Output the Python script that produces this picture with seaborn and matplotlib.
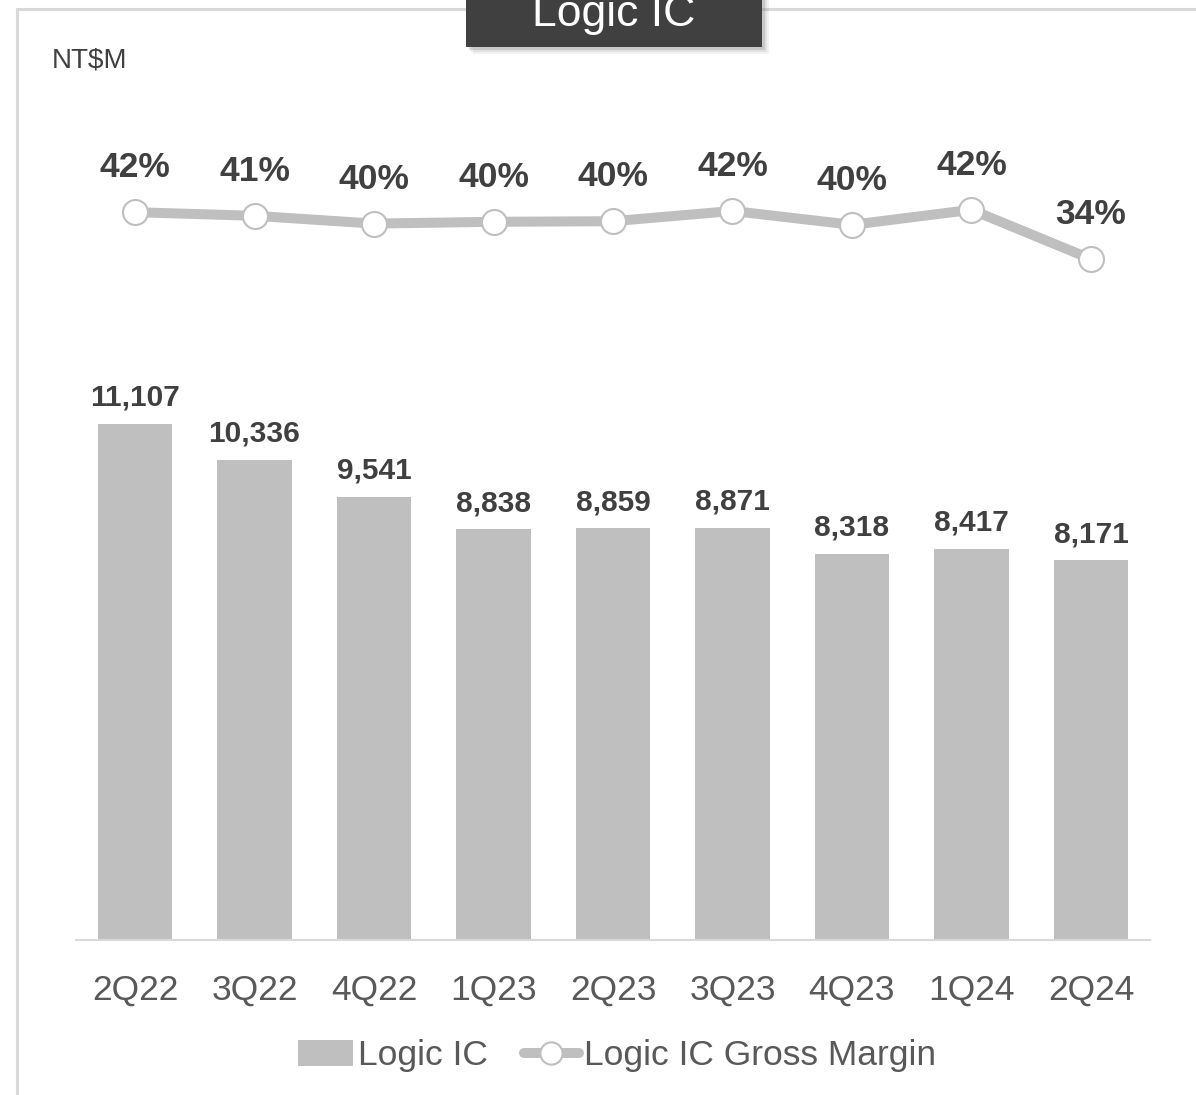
import numpy as np
import pandas as pd
import matplotlib
matplotlib.use("Agg")
import matplotlib.pyplot as plt
from matplotlib.patches import Rectangle, Patch
from matplotlib.lines import Line2D
import seaborn as sns

quarters = ["2Q22", "3Q22", "4Q22", "1Q23", "2Q23", "3Q23", "4Q23", "1Q24", "2Q24"]
revenue = [11107, 10336, 9541, 8838, 8859, 8871, 8318, 8417, 8171]
gross_margin = [41.8, 41.2, 39.9, 40.2, 40.3, 42.0, 39.7, 42.2, 34.0]

title = "Logic IC"
unit_label = "NT$M"
bar_label = "Logic IC"
line_label = "Logic IC Gross Margin"

sns.set_theme(style="white")
plt.rcParams["font.family"] = ["Liberation Sans", "DejaVu Sans"]

W, H = 1196, 1095
fig = plt.figure(figsize=(W / 100, H / 100), dpi=100)
fig.patch.set_facecolor("white")

BAR_C = "#BFBFBF"
TXT_DARK = "#404040"
TXT_MID = "#595959"

ax = fig.add_axes([76 / W, 155 / H, 1074 / W, 840 / H])
df = pd.DataFrame({"quarter": quarters, "revenue": revenue, "gm": gross_margin})
sns.barplot(data=df, x="quarter", y="revenue", ax=ax, color=BAR_C,
            saturation=1, width=0.62, edgecolor="none")
ax.set_ylim(0, 18080)
ax.set_xlim(-0.494, 8.494)
for s in ["top", "right", "left"]:
    ax.spines[s].set_visible(False)
ax.spines["bottom"].set_color("#D9D9D9")
ax.spines["bottom"].set_linewidth(1.5)
ax.set_yticks([])
ax.set_xlabel("")
ax.set_ylabel("")
ax.tick_params(axis="x", length=0, pad=24, labelsize=25.5, labelcolor=TXT_MID)
ax.patch.set_alpha(0)

for i, v in enumerate(revenue):
    ax.annotate(f"{v:,}", (i, v), xytext=(0, 13), textcoords="offset points",
                ha="center", va="baseline", fontsize=21.5, fontweight="bold",
                color=TXT_DARK)

ax2 = ax.twinx()
sns.lineplot(x=np.arange(len(quarters)), y=df["gm"], ax=ax2, color=BAR_C,
             linewidth=7.2, marker="o", markersize=18, markerfacecolor="white",
             markeredgecolor=BAR_C, markeredgewidth=1.5, zorder=3)
ax2.set_ylim(-79.5, 60.5)
ax2.set_xlim(-0.494, 8.494)
ax2.axis("off")
for i, v in enumerate(gross_margin):
    ax2.annotate(f"{v:.0f}%", (i, v), xytext=(0, 25), textcoords="offset points",
                 ha="center", va="baseline", fontsize=25.5, fontweight="bold",
                 color=TXT_DARK)

# frame lines
fig.add_artist(Line2D([17 / W, 1], [1 - 9 / H, 1 - 9 / H], transform=fig.transFigure,
                      color="#D9D9D9", linewidth=2.2, zorder=1))
fig.add_artist(Line2D([17 / W, 17 / W], [0, 1 - 9 / H], transform=fig.transFigure,
                      color="#D9D9D9", linewidth=2.2, zorder=1))

# title box with shadow
bx0, bx1, by = 466, 762, 47
for k, a in [(7, 0.10), (5, 0.15), (3, 0.25)]:
    fig.add_artist(Rectangle(((bx0 + k) / W, 1 - (by + k) / H), (bx1 - bx0) / W, (by + 20) / H,
                             transform=fig.transFigure, facecolor="#808080",
                             edgecolor="none", alpha=a, zorder=4))
fig.add_artist(Rectangle((bx0 / W, 1 - by / H), (bx1 - bx0) / W, (by + 20) / H,
                         transform=fig.transFigure, facecolor="#404040",
                         edgecolor="none", zorder=5))
fig.text(614 / W, 1 - 26 / H, title, ha="center", va="baseline", fontsize=32,
         color="white", zorder=6)

fig.text(52 / W, 1 - 60 / H, unit_label, ha="left", va="center", fontsize=20,
         color=TXT_DARK)

handles = [Patch(facecolor=BAR_C, edgecolor="none"),
           Line2D([], [], color=BAR_C, lw=7.2, marker="o", ms=16, mfc="white",
                  mec=BAR_C, mew=1.5, solid_capstyle="round")]
leg = fig.legend(handles, [bar_label, line_label], loc="center",
                 bbox_to_anchor=(617 / W, 1 - 1056 / H), ncol=2, frameon=False,
                 fontsize=25.5, handlelength=1.55, handleheight=0.75,
                 handletextpad=0.15, columnspacing=1.0)
for t in leg.get_texts():
    t.set_color(TXT_MID)

fig.savefig("out.png", dpi=100, facecolor="white")
